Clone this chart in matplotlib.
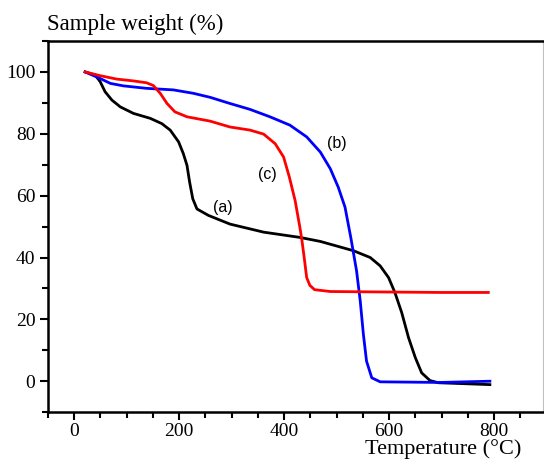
import matplotlib
matplotlib.use("Agg")
import matplotlib.pyplot as plt
from matplotlib.ticker import MultipleLocator

# Du lieu doc tu hinh (nhiet do, khoi luong %)
temp_a = [21, 40, 49.5, 59, 72, 88, 113, 145, 167, 183, 199, 208, 215, 220, 226,
          234, 256, 297, 361, 430, 469, 532, 564, 583, 599, 611, 624, 637, 650,
          662, 678, 694, 792]
weight_a = [100, 99, 96.9, 93.6, 90.9, 88.7, 86.6, 85, 83.3, 81.2, 77.4, 73.6, 69.8,
            64.4, 59, 55.7, 53.6, 50.8, 48.2, 46.5, 45.2, 42.2, 40, 37.3, 33.5, 28.7,
            22.2, 14.1, 7.6, 2.7, 0.2, -0.5, -1.1]

temp_b = [21, 49.5, 69, 94, 138, 189, 227, 259, 297, 335, 373, 411, 443, 469, 488,
          503, 516, 527, 538, 545, 551, 557, 567, 583, 697, 792]
weight_b = [100, 97.9, 96.3, 95.5, 94.7, 94.2, 93.1, 91.8, 89.8, 87.9, 85.5, 82.8,
            79, 74.1, 68.7, 62.8, 56.3, 46.5, 35.7, 26, 15.2, 6.5, 1.1, -0.2, -0.4, 0]

temp_c = [21, 49.5, 81, 113, 138, 151, 164, 177, 192, 215, 259, 297, 335, 361, 383,
          399, 410, 421, 430, 434, 439, 443, 449, 458, 488, 697, 789]
weight_c = [100, 98.8, 97.7, 97.1, 96.5, 95.6, 93.1, 89.8, 87.1, 85.5, 84.1, 82.2,
            81.2, 79.9, 76.8, 72.5, 66, 58.4, 49.8, 45.5, 39, 33.5, 31, 29.6, 29,
            28.7, 28.7]

labels = ["(a)", "(b)", "(c)"]
label_pos = [(284, 56.3), (500, 77), (368, 66.8)]

fig = plt.figure(figsize=(5.44, 4.61), dpi=100)
ax = fig.add_axes([0.088, 0.106, 0.91, 0.805])

ax.plot(temp_a, weight_a, color="black", lw=2)
ax.plot(temp_b, weight_b, color="#0000ff", lw=2)
ax.plot(temp_c, weight_c, color="#ff0000", lw=2)

for txt, (x, y) in zip(labels, label_pos):
    ax.text(x, y, txt, ha="center", va="center", fontsize=11.5,
            family="Liberation Sans")

ax.set_xlim(-50, 893)
ax.set_ylim(-10, 110)
ax.xaxis.set_major_locator(MultipleLocator(200))
ax.xaxis.set_minor_locator(MultipleLocator(50))
ax.yaxis.set_major_locator(MultipleLocator(20))
ax.yaxis.set_minor_locator(MultipleLocator(10))

ax.tick_params(which="both", direction="out", width=1.5, top=False, right=False)
ax.tick_params(which="major", length=6, labelsize=14, pad=3)
ax.tick_params(axis="x", which="major", pad=2)
ax.tick_params(which="minor", length=4)
for lab in ax.get_xticklabels() + ax.get_yticklabels():
    lab.set_family("Liberation Serif")

for s in ["left", "top", "bottom"]:
    ax.spines[s].set_linewidth(1.8)
ax.spines["right"].set_color("#c0c0c0")
ax.spines["right"].set_linewidth(0.8)

fig.text(0.086, 0.948, "Sample weight (%)", fontsize=16.5, family="Liberation Serif",
         ha="left", va="center")
fig.text(0.958, 0.004, "Temperature (\u00b0C)", fontsize=16, family="Liberation Serif",
         ha="right", va="bottom")

fig.savefig("out.png", dpi=100)
